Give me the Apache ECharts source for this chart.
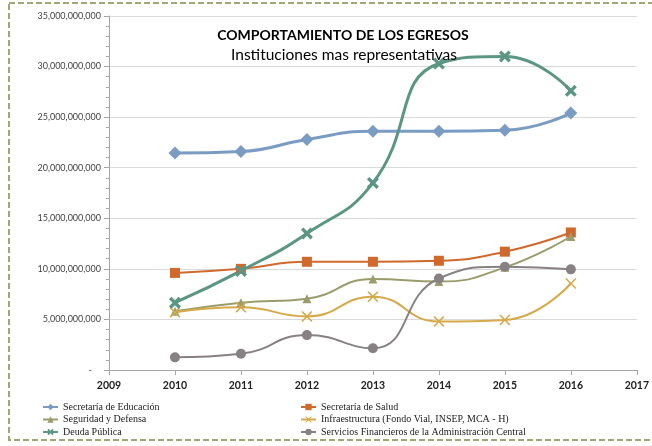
<!DOCTYPE html>
<html>
<head>
<meta charset="utf-8">
<script src="https://cdn.jsdelivr.net/npm/echarts@6/dist/echarts.min.js"></script>
<style>
  html, body { margin: 0; padding: 0; background: #fff; }
  #chart { width: 652px; height: 446px; }
</style>
</head>
<body>
<div id="chart"></div>
<script>
// años del eje x
var years = [2010, 2011, 2012, 2013, 2014, 2015, 2016];

// egresos por institucion (lempiras)
var educacion = [21.45e9, 21.6e9, 22.8e9, 23.6e9, 23.6e9, 23.7e9, 25.4e9];
var salud = [9.6e9, 10.0e9, 10.7e9, 10.7e9, 10.8e9, 11.7e9, 13.6e9];
var seguridad = [5.8e9, 6.65e9, 7.05e9, 9.0e9, 8.75e9, 10.15e9, 13.2e9];
var infraestructura = [5.7e9, 6.2e9, 5.3e9, 7.25e9, 4.8e9, 4.95e9, 8.55e9];
var deuda = [6.65e9, 9.8e9, 13.5e9, 18.5e9, 30.3e9, 31.0e9, 27.6e9];
var servicios = [1.25e9, 1.6e9, 3.45e9, 2.15e9, 9.05e9, 10.2e9, 9.95e9];

var chart = echarts.init(document.getElementById('chart'));

function pairs(arr) {
  return arr.map(function (v, i) { return [years[i], v]; });
}

var xThin = 'path://M0,1L1,0L5,4L9,0L10,1L6,5L10,9L9,10L5,6L1,10L0,9L4,5Z';
var xThick = 'path://M0,2L2,0L5,3L8,0L10,2L7,5L10,8L8,10L5,7L2,10L0,8L3,5Z';

function serie(name, data, color, symbol, size, width) {
  return {
    name: name,
    type: 'line',
    smooth: 0.5,
    data: pairs(data),
    symbol: symbol,
    symbolSize: size,
    showAllSymbol: true,
    color: color,
    lineStyle: { color: color, width: width },
    itemStyle: { color: color },
    emphasis: { disabled: true }
  };
}

var legendText = { fontFamily: 'Liberation Serif, serif', fontSize: 10, color: '#222' };

var option = {
  animation: false,
  backgroundColor: '#fff',
  grid: { left: 109, right: 9, top: 16, bottom: 76 },
  title: [{
    text: 'COMPORTAMIENTO DE LOS EGRESOS',
    left: 338, top: 23, textAlign: 'center',
    textStyle: { fontFamily: 'Lato', fontSize: 14, fontWeight: 'bold', color: '#000' }
  }, {
    text: 'Instituciones mas representativas',
    left: 339, top: 42, textAlign: 'center',
    textStyle: { fontFamily: 'Lato', fontSize: 15.5, fontWeight: 'normal', color: '#000' }
  }],
  legend: [{
    orient: 'vertical', left: 42, top: 402, itemGap: 2.5, padding: 0,
    itemWidth: 15, itemHeight: 8,
    textStyle: legendText,
    data: ['Secretaría de Educación', 'Seguridad y Defensa', 'Deuda Pública']
  }, {
    orient: 'vertical', left: 300, top: 402, itemGap: 2.5, padding: 0,
    itemWidth: 15, itemHeight: 8,
    textStyle: legendText,
    data: ['Secretaría de Salud', 'Infraestructura (Fondo Vial, INSEP, MCA - H)',
      'Servicios Financieros de la Administración Central']
  }],
  xAxis: {
    type: 'value', min: 2009, max: 2017, interval: 1,
    axisLine: { lineStyle: { color: '#a6a6a6' } },
    axisTick: { show: true, length: 5, lineStyle: { color: '#a6a6a6' } },
    splitLine: { show: false },
    axisLabel: {
      margin: 10, color: '#222', fontFamily: 'Lato', fontSize: 10.5, fontWeight: 'bold',
      formatter: function (v) { return String(v); }
    }
  },
  yAxis: {
    type: 'value', min: 0, max: 35e9, interval: 5e9,
    axisLine: { show: true, lineStyle: { color: '#a6a6a6' } },
    axisTick: { show: true, length: 5, lineStyle: { color: '#a6a6a6' } },
    minorTick: { show: true, splitNumber: 5, length: 3, lineStyle: { color: '#a6a6a6' } },
    splitLine: { lineStyle: { color: '#d9d9d9' } },
    axisLabel: {
      margin: 8, color: '#444', fontFamily: 'Lato', fontSize: 9,
      formatter: function (v) { return v === 0 ? '-    ' : v.toLocaleString('en-US'); }
    }
  },
  series: [
    serie('Secretaría de Educación', educacion, '#7a9cc2', 'diamond', 13, 3),
    serie('Secretaría de Salud', salud, '#d0692c', 'rect', 10, 2),
    serie('Seguridad y Defensa', seguridad, '#9a9d6b', 'triangle', 9, 2),
    serie('Infraestructura (Fondo Vial, INSEP, MCA - H)', infraestructura, '#d6a94a', xThin, 11, 2),
    serie('Deuda Pública', deuda, '#5a9683', xThick, 12, 3),
    serie('Servicios Financieros de la Administración Central', servicios, '#888183', 'circle', 10, 2)
  ],
  graphic: [{
    type: 'rect', silent: true,
    shape: { x: 9, y: 3, width: 660, height: 437 },
    style: { fill: null, stroke: '#a3a675', lineWidth: 2, lineDash: [6, 3] }
  }]
};

chart.setOption(option);
</script>
</body>
</html>
